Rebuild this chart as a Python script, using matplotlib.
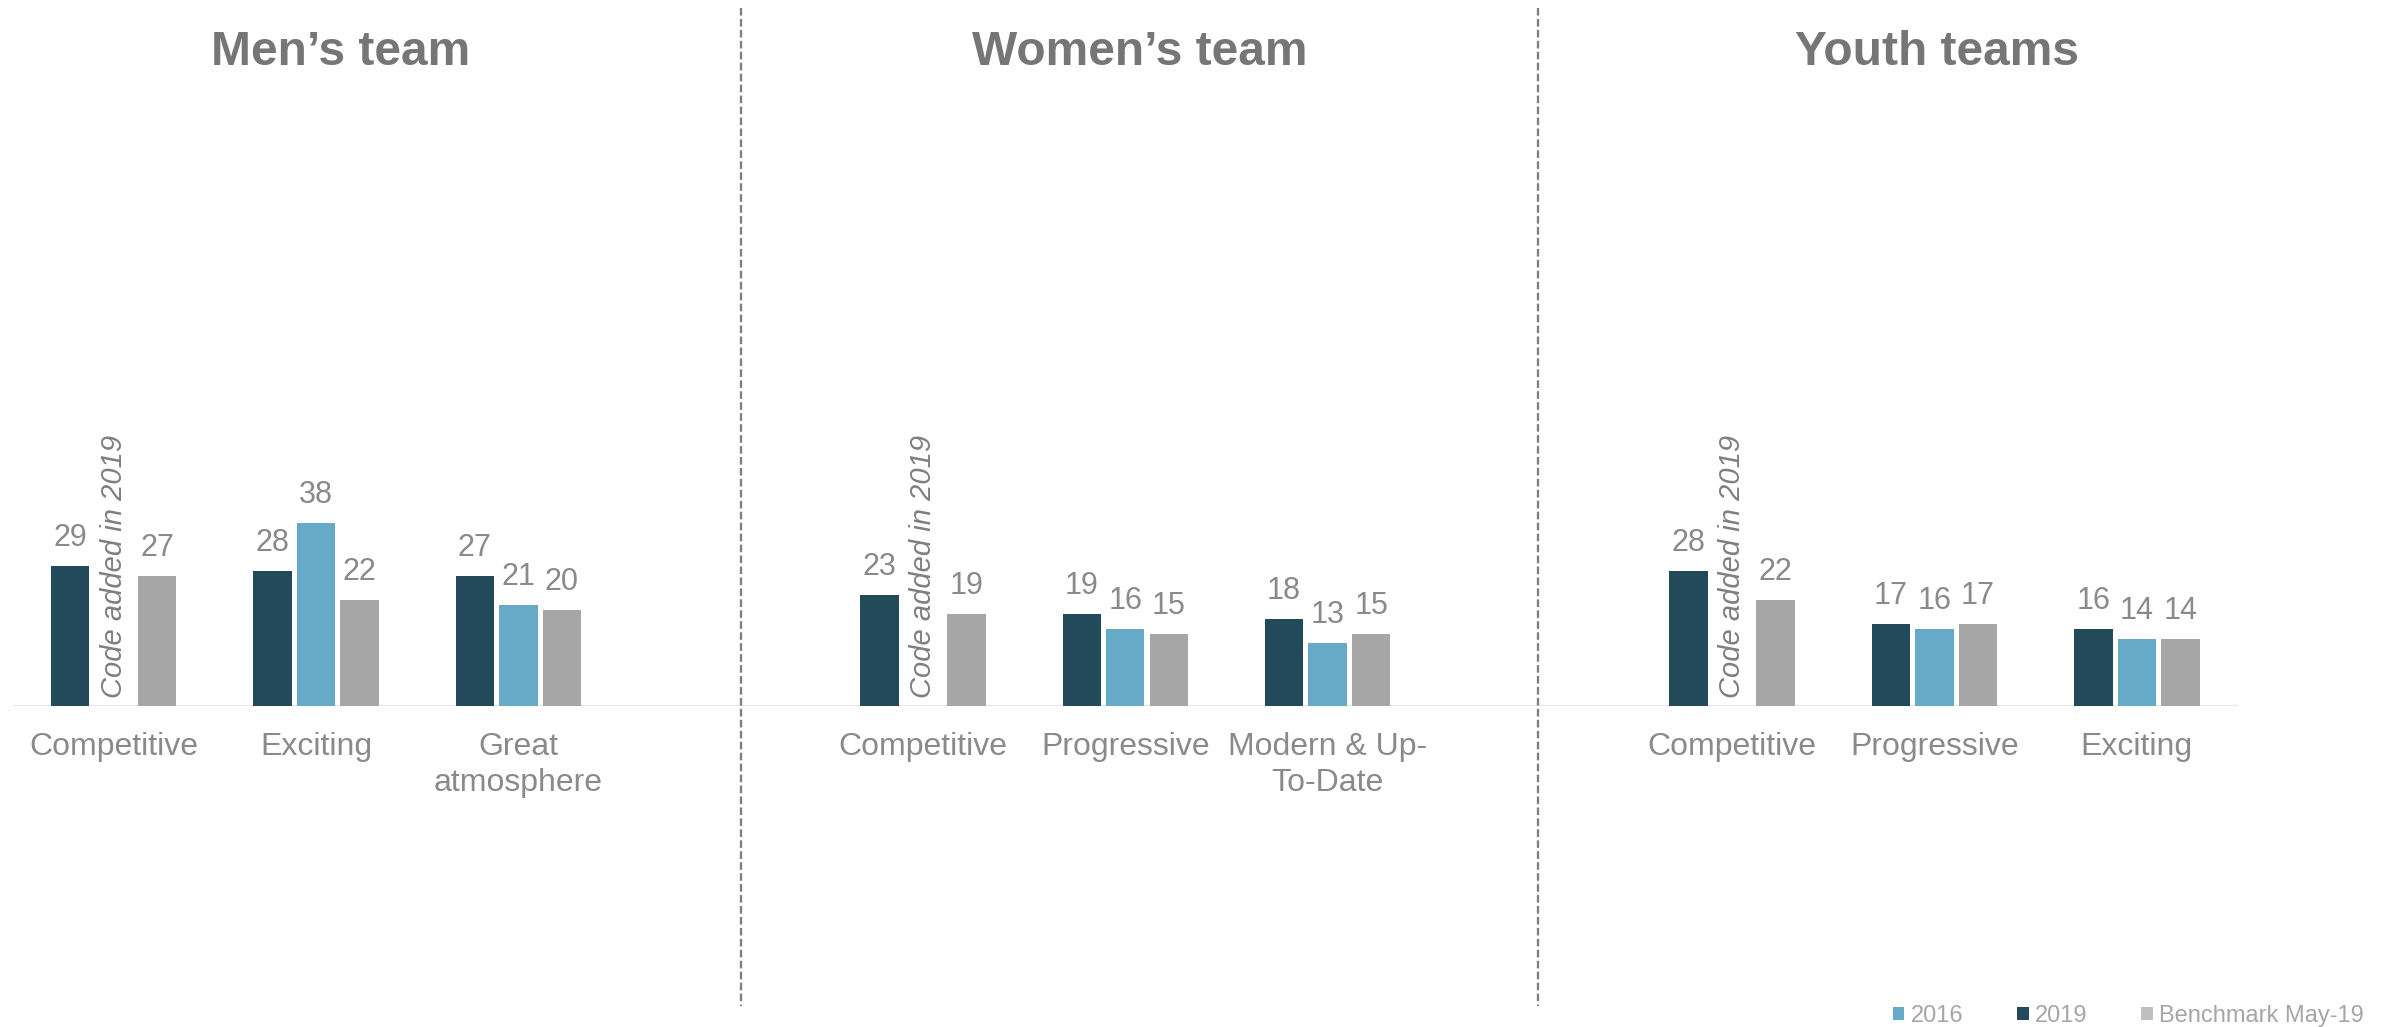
import matplotlib
matplotlib.use("Agg")
import matplotlib.pyplot as plt
from matplotlib.patches import Patch
from matplotlib.lines import Line2D

plt.rcParams['font.family'] = ['Liberation Sans', 'DejaVu Sans']

# ---- data ----
panel_titles = ["Men\u2019s team", "Women\u2019s team", "Youth teams"]
men_categories = ["Competitive", "Exciting", "Great\natmosphere"]
men_2019 = [29, 28, 27]
men_2016 = [None, 38, 21]
men_bench = [27, 22, 20]

women_categories = ["Competitive", "Progressive", "Modern & Up-\nTo-Date"]
women_2019 = [23, 19, 18]
women_2016 = [None, 16, 13]
women_bench = [19, 15, 15]

youth_categories = ["Competitive", "Progressive", "Exciting"]
youth_2019 = [28, 17, 16]
youth_2016 = [None, 16, 14]
youth_bench = [22, 17, 14]

missing_note = "Code added in 2019"
legend_labels = ["2016", "2019", "Benchmark May-19"]

# ---- styles ----
C2019 = "#234A5B"
C2016 = "#67AAC7"
CBEN = "#A6A6A6"
CBEN_LEG = "#BFBFBF"
TXT = "#8A8A8A"
TITLE_C = "#767676"
LEG_TXT = "#A6A6A6"

W, H = 2387, 1027
fig = plt.figure(figsize=(W / 100, H / 100), dpi=100)

left_px, right_px = 12.5, 2238
base_px = 706
ppu = 4.82
ymax = 60
ax = fig.add_axes([left_px / W, (H - base_px) / H, (right_px - left_px) / W, ymax * ppu / H])
ax.set_xlim(-0.5, 10.5)
ax.set_ylim(0, ymax)
ax.axis('off')
ax.axhline(0, color="#E6E6E6", lw=1.6, zorder=1)

panels = [
    (0, men_categories, men_2019, men_2016, men_bench),
    (4, women_categories, women_2019, women_2016, women_bench),
    (8, youth_categories, youth_2019, youth_2016, youth_bench),
]

step = 0.215
bw = 0.19
for start, cats, v19, v16, vb in panels:
    for i, cat in enumerate(cats):
        x = start + i
        series = [(-step, v19[i], C2019), (0, v16[i], C2016), (step, vb[i], CBEN)]
        for off, val, col in series:
            if val is None:
                ax.annotate(missing_note, xy=(x + off, 0), xytext=(0, 5.5),
                            textcoords='offset points', rotation=90,
                            ha='center', va='bottom', fontsize=21,
                            style='italic', color="#7F7F7F")
                continue
            ax.bar(x + off, val, width=bw, color=col, zorder=2)
            ax.annotate(f"{val}", xy=(x + off, val), xytext=(0, 14.4),
                        textcoords='offset points', ha='center',
                        va='baseline', fontsize=22, color=TXT)
        ax.annotate(cat, xy=(x, 0), xytext=(0, -18.7), textcoords='offset points',
                    ha='center', va='top', multialignment='center',
                    fontsize=23, color=TXT, linespacing=1.25)

# titles
title_x = [341, 1139.5, 1937]
for t, xp in zip(panel_titles, title_x):
    fig.text(xp / W, 1 - 65 / H, t, ha='center', va='baseline',
             fontsize=34.5, fontweight='bold', color=TITLE_C)

# dashed separators
for xp in [741, 1538]:
    fig.add_artist(Line2D([xp / W, xp / W], [1 - 8 / H, 1 - 1006 / H],
                          transform=fig.transFigure, color="#7F7F7F",
                          lw=1.66, linestyle=(0, (3.3, 1.45))))

# legend
handles = [Patch(facecolor=C2016), Patch(facecolor=C2019), Patch(facecolor=CBEN_LEG)]
fig.legend(handles, legend_labels, loc='center right', ncol=3,
           bbox_to_anchor=(2364 / W, 1 - 1016 / H), frameon=False,
           borderpad=0, borderaxespad=0, handlelength=0.5, handleheight=0.5,
           handletextpad=0.28, columnspacing=2.25, fontsize=17,
           labelcolor=LEG_TXT)

fig.savefig("out.png", dpi=100, facecolor='white')
